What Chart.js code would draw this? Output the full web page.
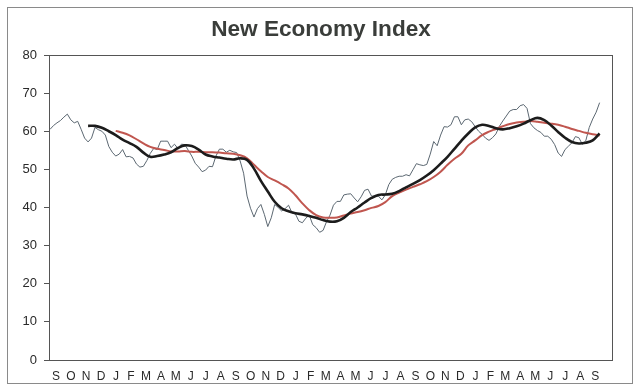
<!DOCTYPE html>
<html>
<head>
<meta charset="utf-8">
<script src="https://cdn.jsdelivr.net/npm/chart.js@4.4.1/dist/chart.umd.min.js"></script>
<style>
  html, body { margin: 0; padding: 0; background: #ffffff; }
  #wrap { width: 639px; height: 391px; }
</style>
</head>
<body>
<div id="wrap"><canvas id="chart" width="639" height="391"></canvas></div>
<script>
const chartTitle = 'New Economy Index';

// month initials under the x axis, one per month
const monthLabels = [
  'S','O','N','D','J','F','M','A','M','J','J','A',
  'S','O','N','D','J','F','M','A','M','J','J','A',
  'S','O','N','D','J','F','M','A','M','J','J','A',
  'S'
];
const yTickValues = [0, 10, 20, 30, 40, 50, 60, 70, 80];

// weekly index readings (thin grey line)
const weeklyIndex = [
  60.5, 61.5, 62.2, 62.8, 63.7, 64.5, 63.0, 62.2, 62.6, 60.5,
  58.2, 57.2, 58.2, 61.0, 60.4, 60.0, 59.0, 56.0, 54.5, 53.5,
  54.0, 55.2, 53.3, 53.4, 53.0, 51.4, 50.6, 50.8, 52.3, 54.2,
  55.5, 55.2, 57.4, 57.4, 57.4, 55.7, 56.6, 55.5, 56.6, 56.5,
  55.0, 53.5, 51.6, 50.6, 49.4, 49.8, 50.8, 50.7, 53.5, 55.3,
  55.3, 54.5, 55.0, 54.6, 54.4, 52.2, 49.0, 43.0, 39.8, 37.5,
  39.7, 40.8, 38.2, 35.0, 37.3, 40.8, 40.0, 39.1, 39.7, 40.6,
  38.6, 38.3, 36.4, 36.0, 37.2, 38.0, 35.5, 34.7, 33.5, 34.0,
  36.3, 38.0, 40.6, 41.6, 41.6, 43.3, 43.5, 43.6, 42.5, 41.5,
  42.8, 44.5, 44.8, 43.0, 43.0, 43.0, 42.0, 43.3, 46.0, 47.4,
  47.9, 48.2, 48.2, 48.6, 48.3, 49.9, 51.5, 51.2, 51.0, 51.3,
  54.0, 57.3, 56.2, 59.0, 61.2, 61.1, 61.7, 63.8, 63.8, 61.7,
  63.0, 63.2, 62.5, 61.2, 60.0, 59.2, 58.2, 57.6, 58.3, 59.3,
  61.3, 62.7, 64.0, 65.3, 65.7, 65.7, 66.7, 67.0, 66.0, 62.0,
  60.9, 60.2, 59.7, 58.7, 58.7, 57.9, 56.5, 54.3, 53.4, 55.2,
  56.1, 57.0, 58.6, 58.3, 56.6, 57.5, 61.0, 63.2, 65.0, 67.5
];

// shorter moving average (thick black line), every 2nd week from week 11
const shortAvgStart = 11;
const shortAvg = [
  61.4, 61.4, 60.9, 60.0, 59.0, 57.8, 56.9, 55.9, 54.4, 53.3,
  53.5, 53.9, 54.5, 55.6, 56.3, 56.1, 55.2, 53.9, 53.4, 53.1,
  52.8, 52.6, 52.9, 52.5, 50.2, 47.0, 44.2, 41.5, 39.8, 39.0,
  38.5, 38.2, 37.8, 37.3, 36.7, 36.3, 36.4, 37.3, 38.8, 40.0,
  41.3, 42.5, 43.3, 43.4, 43.6, 44.3, 45.3, 46.2, 47.2, 48.4,
  49.8, 51.5, 53.3, 55.4, 57.5, 59.4, 61.0, 61.7, 61.4, 60.8,
  60.5, 60.8, 61.3, 62.0, 62.9, 63.5, 62.9, 61.5, 59.8, 58.3,
  57.2, 56.8, 57.0, 57.6, 59.4
];

// longer moving average (red line), every 2nd week from week 19
const longAvgStart = 19;
const longAvg = [
  60.1, 59.6, 58.9, 57.9, 56.8, 55.9, 55.4, 55.1, 54.7, 54.7,
  54.8, 54.6, 54.6, 54.5, 54.5, 54.4, 54.2, 54.1, 53.7, 52.9,
  51.2, 49.5, 48.0, 47.1, 46.1, 45.0, 43.2, 41.1, 39.3, 38.0,
  37.4, 37.3, 37.4, 37.9, 38.4, 38.8, 39.3, 39.9, 40.4, 41.4,
  43.0, 43.9, 44.7, 45.4, 46.1, 46.9, 48.0, 49.4, 51.2, 52.8,
  54.1, 56.3, 57.6, 59.0, 59.9, 60.6, 61.3, 61.9, 62.3, 62.5,
  62.7, 62.5, 62.2, 62.0, 61.7, 61.2, 60.6, 60.1, 59.6, 59.2,
  58.9
];

// first weekly reading sits a little before the first "S"; x is measured in months
const firstWeekMonth = -0.4;
const weekToMonth = k => firstWeekMonth + k * 12 / 52;

const greyPoints = weeklyIndex.map((v, k) => ({ x: weekToMonth(k), y: v }));
const shortPoints = shortAvg.map((v, i) => ({ x: weekToMonth(shortAvgStart + 2 * i), y: v }));
const longPoints = longAvg.map((v, i) => ({ x: weekToMonth(longAvgStart + 2 * i), y: v }));

// white page, outer frame, plot box and the centred title
const frame = {
  id: 'frame',
  beforeDraw(chart) {
    const ctx = chart.ctx;
    ctx.save();
    ctx.fillStyle = '#ffffff';
    ctx.fillRect(0, 0, chart.width, chart.height);
    ctx.strokeStyle = '#8a8a8a';
    ctx.lineWidth = 1;
    ctx.strokeRect(7.5, 7.5, 625, 376);
    ctx.fillStyle = '#3a3d3a';
    ctx.font = 'bold 22.6px "Liberation Sans", Arial, sans-serif';
    ctx.textAlign = 'center';
    ctx.textBaseline = 'middle';
    ctx.fillText(chartTitle, 321, 30);
    ctx.restore();
  },
  beforeDatasetsDraw(chart) {
    const a = chart.chartArea;
    const ctx = chart.ctx;
    ctx.save();
    ctx.strokeStyle = '#555555';
    ctx.lineWidth = 1;
    ctx.strokeRect(Math.round(a.left) + 0.5, Math.round(a.top) + 0.5,
      Math.round(a.right - a.left), Math.round(a.bottom - a.top));
    ctx.restore();
  }
};

new Chart(document.getElementById('chart').getContext('2d'), {
  type: 'line',
  data: {
    datasets: [
      {
        label: 'Weekly',
        data: greyPoints,
        borderColor: '#5c6872',
        borderWidth: 1,
        pointRadius: 0,
        tension: 0,
        order: 3
      },
      {
        label: 'Long average',
        data: longPoints,
        borderColor: '#c0564f',
        borderWidth: 2,
        pointRadius: 0,
        tension: 0.4,
        order: 2
      },
      {
        label: 'Short average',
        data: shortPoints,
        borderColor: '#1c1c1c',
        borderWidth: 2.6,
        pointRadius: 0,
        tension: 0.4,
        order: 1
      }
    ]
  },
  options: {
    responsive: false,
    animation: false,
    layout: { padding: { left: 0, right: 27, top: 55, bottom: 0 } },
    plugins: {
      legend: { display: false },
      tooltip: { enabled: false },
      title: { display: false }
    },
    scales: {
      x: {
        type: 'linear',
        min: -0.47,
        max: 37.12,
        afterBuildTicks: scale => { scale.ticks = monthLabels.map((_, i) => ({ value: i })); },
        afterFit: scale => { scale.height = 31; },
        grid: { display: false, drawTicks: false, tickLength: 0 },
        border: { display: false },
        ticks: {
          autoSkip: false,
          maxRotation: 0,
          padding: 9,
          color: '#2a2a2a',
          font: { family: 'Liberation Sans, Arial, sans-serif', size: 12 },
          callback: value => monthLabels[Math.round(value)]
        }
      },
      y: {
        min: 0,
        max: 80,
        afterBuildTicks: scale => { scale.ticks = yTickValues.map(v => ({ value: v })); },
        afterFit: scale => { scale.width = 49; },
        grid: { drawOnChartArea: false, drawTicks: true, tickLength: 5, color: '#555555' },
        border: { display: false },
        ticks: {
          padding: 7,
          color: '#2a2a2a',
          font: { family: 'Liberation Sans, Arial, sans-serif', size: 13 }
        }
      }
    }
  },
  plugins: [frame]
});
</script>
</body>
</html>
